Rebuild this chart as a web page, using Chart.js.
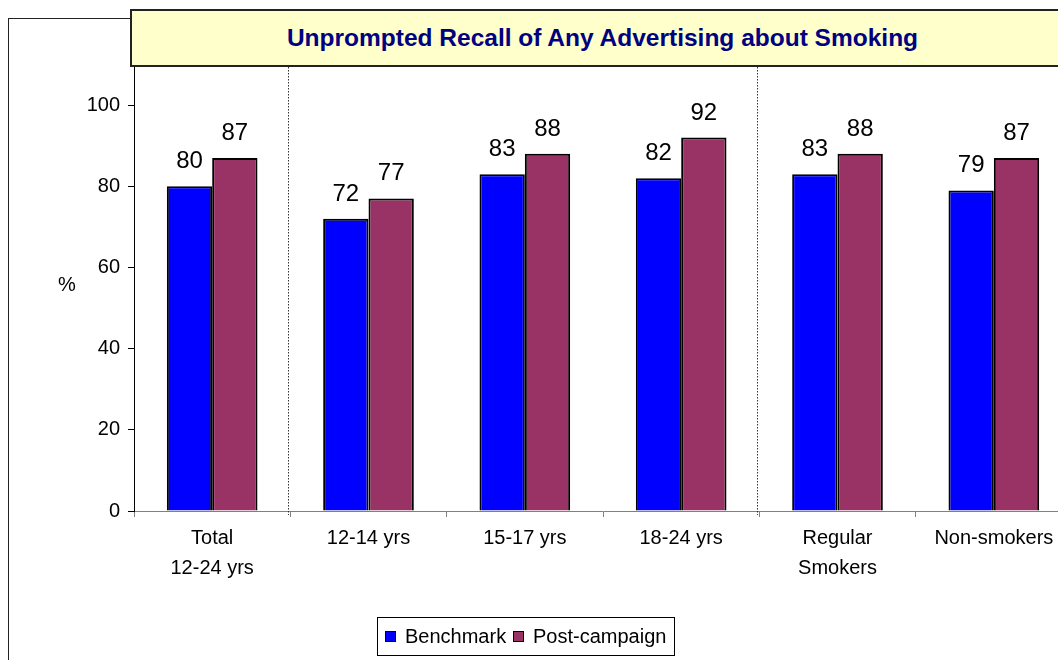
<!DOCTYPE html>
<html><head><meta charset="utf-8">
<script src="https://cdn.jsdelivr.net/npm/chart.js@4/dist/chart.umd.min.js"></script>
<style>
html,body{margin:0;padding:0;background:#fff;overflow:hidden;width:1058px;height:660px;}
#wrap{position:relative;width:1058px;height:660px;overflow:hidden;}
#frame{position:absolute;left:8px;top:18px;width:1200px;height:800px;border:1.5px solid #222;box-sizing:border-box;}
canvas{position:absolute;left:0;top:0;}
#title{position:absolute;left:130px;top:9px;width:945px;height:58px;background:#FFFFCC;border:2px solid #222;box-sizing:border-box;display:flex;align-items:center;justify-content:center;font:bold 24.5px "Liberation Sans",Arial,sans-serif;color:#000080;}
#pct{position:absolute;left:58px;top:272px;font:20px "Liberation Sans",Arial,sans-serif;color:#000;line-height:24px;}
#legend{position:absolute;left:377px;top:617px;width:298px;height:39px;border:1px solid #000;box-sizing:border-box;font:20px "Liberation Sans",Arial,sans-serif;color:#000;}
#legend .sw{position:absolute;top:13px;width:11px;height:11px;border:1px solid #000;box-sizing:border-box;}
#legend .tx{position:absolute;top:6px;line-height:24px;white-space:nowrap;}
</style></head>
<body>
<div id="wrap">
  <div id="frame"></div>
  <canvas id="c" width="1072" height="660"></canvas>
  <div id="title">Unprompted Recall of Any Advertising about Smoking</div>
  <div id="pct">%</div>
  <div id="legend"></div>
</div>
<script>
const categories = [['Total','12-24 yrs'], '12-14 yrs', '15-17 yrs', '18-24 yrs', ['Regular','Smokers'], 'Non-smokers'];
const benchmark = [80, 72, 83, 82, 83, 79];
const postCampaign = [87, 77, 88, 92, 88, 87];
const yTickValues = [0, 20, 40, 60, 80, 100];
const seriesNames = ['Benchmark', 'Post-campaign'];
const seriesColors = ['#0000FF', '#993366'];
const separatorsAfter = [0, 3];

const FONT = '"Liberation Sans", Arial, sans-serif';

const valueLabels = {
  id: 'valueLabels',
  afterDatasetsDraw(chart) {
    const ctx = chart.ctx;
    ctx.save();
    ctx.font = '24px ' + FONT;
    ctx.fillStyle = '#000';
    ctx.textAlign = 'center';
    ctx.textBaseline = 'alphabetic';
    chart.data.datasets.forEach((ds, i) => {
      chart.getDatasetMeta(i).data.forEach((bar, j) => {
        ctx.fillText(String(ds.data[j]), bar.x, bar.y - 18);
      });
    });
    ctx.restore();
  }
};

const separators = {
  id: 'separators',
  beforeDatasetsDraw(chart) {
    const ctx = chart.ctx, xs = chart.scales.x, area = chart.chartArea;
    ctx.save();
    ctx.strokeStyle = '#333';
    ctx.lineWidth = 1;
    ctx.setLineDash([1.5, 1.5]);
    separatorsAfter.forEach(i => {
      const x = Math.round((xs.getPixelForTick(i) + xs.getPixelForTick(i + 1)) / 2 - 2) + 0.5;
      ctx.beginPath();
      ctx.moveTo(x, area.top);
      ctx.lineTo(x, area.bottom + 4);
      ctx.stroke();
    });
    ctx.restore();
  }
};

new Chart(document.getElementById('c'), {
  type: 'bar',
  data: {
    labels: categories,
    datasets: [
      { label: seriesNames[0], data: benchmark, backgroundColor: seriesColors[0], borderColor: '#000', borderWidth: 2 },
      { label: seriesNames[1], data: postCampaign, backgroundColor: seriesColors[1], borderColor: '#000', borderWidth: 2 }
    ]
  },
  options: {
    responsive: false,
    animation: false,
    layout: { padding: { top: 67, left: 0, right: 0, bottom: 0 } },
    datasets: { bar: { categoryPercentage: 0.58, barPercentage: 1.0 } },
    plugins: { legend: { display: false }, tooltip: { enabled: false }, title: { display: false } },
    scales: {
      x: {
        offset: true,
        grid: { display: true, drawOnChartArea: false, drawTicks: true, tickLength: 6, color: '#808080', offset: true },
        border: { display: true, color: '#808080', width: 1 },
        ticks: { font: { family: FONT, size: 20, lineHeight: 1.5 }, color: '#000', padding: 6, maxRotation: 0, autoSkip: false },
        afterFit(s) { s.height = 149; }
      },
      y: {
        min: 0,
        max: 109.4,
        afterBuildTicks(s) { s.ticks = yTickValues.map(v => ({ value: v })); },
        grid: { display: true, drawOnChartArea: false, drawTicks: true, tickLength: 6, color: '#000' },
        border: { display: true, color: '#000', width: 1 },
        ticks: { font: { family: FONT, size: 20 }, color: '#000', padding: 8 },
        afterFit(s) { s.width = 134; }
      }
    }
  },
  plugins: [separators, valueLabels]
});

// legend (HTML)
const legend = document.getElementById('legend');
const swLeft = [7, 135], txLeft = [27, 155];
seriesNames.forEach((name, i) => {
  const sw = document.createElement('div');
  sw.className = 'sw'; sw.style.left = swLeft[i] + 'px'; sw.style.background = seriesColors[i];
  const tx = document.createElement('div');
  tx.className = 'tx'; tx.style.left = txLeft[i] + 'px'; tx.textContent = name;
  legend.appendChild(sw); legend.appendChild(tx);
});
</script>
</body></html>
